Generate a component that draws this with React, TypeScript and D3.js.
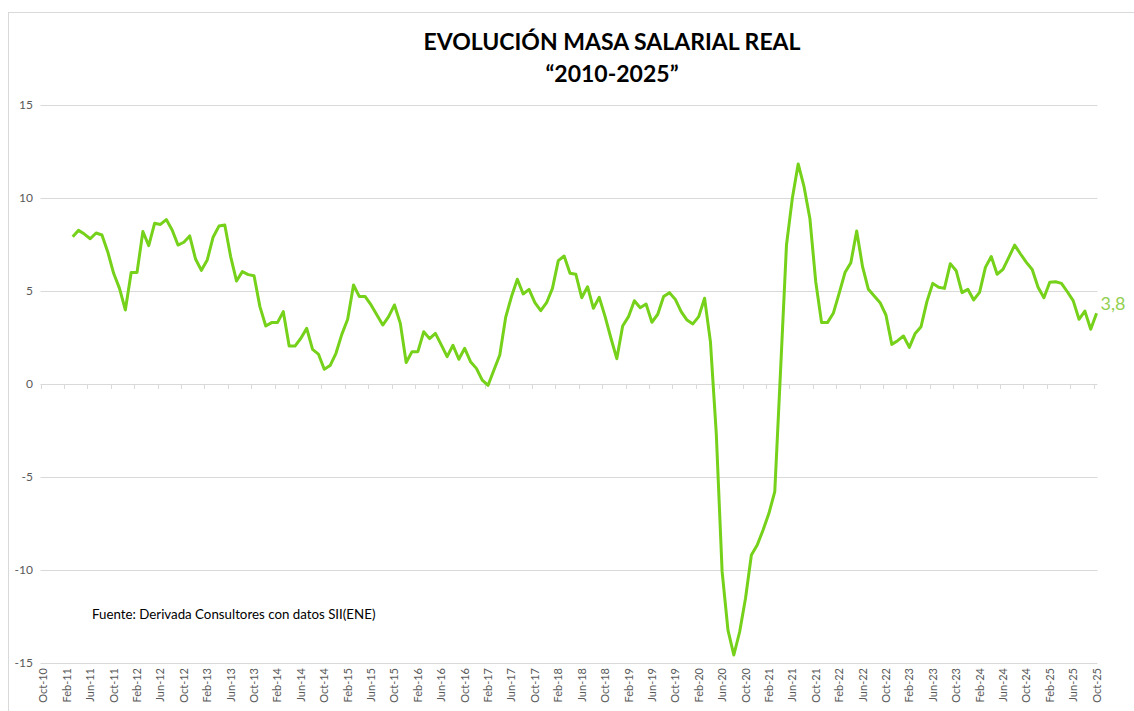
import React from "react";
import * as d3 from "d3";

// ---- data ----
const titleLine1 = "EVOLUCIÓN MASA SALARIAL REAL";
const titleLine2 = "“2010-2025”";
const sourceNote = "Fuente: Derivada Consultores con datos SII(ENE)";
const lastLabel = "3,8";

// monthly categories Oct-10 .. Oct-25
const categoryStart = new Date(2010, 9, 1);
const categoryEnd = new Date(2025, 10, 1);
const seriesStart = new Date(2011, 2, 1); // first observed month (Mar-11)

const tickLabels = [
  "Oct-10", "Feb-11", "Jun-11", "Oct-11", "Feb-12", "Jun-12", "Oct-12", "Feb-13", "Jun-13", "Oct-13",
  "Feb-14", "Jun-14", "Oct-14", "Feb-15", "Jun-15", "Oct-15", "Feb-16", "Jun-16", "Oct-16", "Feb-17",
  "Jun-17", "Oct-17", "Feb-18", "Jun-18", "Oct-18", "Feb-19", "Jun-19", "Oct-19", "Feb-20", "Jun-20",
  "Oct-20", "Feb-21", "Jun-21", "Oct-21", "Feb-22", "Jun-22", "Oct-22", "Feb-23", "Jun-23", "Oct-23",
  "Feb-24", "Jun-24", "Oct-24", "Feb-25", "Jun-25", "Oct-25",
];

const yTicks = [-15, -10, -5, 0, 5, 10, 15];

const values2011 = [7.92, 8.26, 8.06, 7.81, 8.12, 8.01, 7.1, 5.95, 5.14, 3.98];
const values2012 = [6.0, 6.0, 8.2, 7.44, 8.64, 8.58, 8.84, 8.28, 7.47, 7.62, 7.96, 6.72];
const values2013 = [6.11, 6.67, 7.89, 8.49, 8.55, 6.85, 5.54, 6.04, 5.88, 5.82, 4.16, 3.12];
const values2014 = [3.3, 3.3, 3.89, 2.04, 2.04, 2.46, 2.99, 1.86, 1.61, 0.79, 0.99, 1.65];
const values2015 = [2.67, 3.48, 5.32, 4.7, 4.7, 4.25, 3.71, 3.17, 3.62, 4.25, 3.26, 1.16];
const values2016 = [1.74, 1.74, 2.81, 2.44, 2.72, 2.1, 1.47, 2.08, 1.33, 1.92, 1.2, 0.84];
const values2017 = [0.21, -0.07, 0.75, 1.56, 3.58, 4.7, 5.63, 4.84, 5.09, 4.37, 3.94, 4.37];
const values2018 = [5.14, 6.63, 6.88, 5.95, 5.9, 4.64, 5.23, 4.07, 4.66, 3.62, 2.46, 1.36];
const values2019 = [3.12, 3.62, 4.48, 4.1, 4.3, 3.32, 3.75, 4.7, 4.91, 4.55, 3.89, 3.44];
const values2020 = [3.23, 3.62, 4.61, 2.28, -2.65, -10.09, -13.23, -14.57, -13.32, -11.52, -9.19, -8.66];
const values2021 = [-7.85, -6.95, -5.79, 0.8, 7.47, 9.98, 11.83, 10.61, 8.9, 5.5, 3.3, 3.3];
const values2022 = [3.8, 4.87, 5.99, 6.52, 8.23, 6.31, 5.09, 4.73, 4.37, 3.71, 2.13, 2.33];
const values2023 = [2.58, 1.97, 2.72, 3.08, 4.43, 5.41, 5.2, 5.14, 6.47, 6.09, 4.91, 5.09];
const values2024 = [4.52, 4.93, 6.27, 6.85, 5.9, 6.16, 6.81, 7.47, 6.99, 6.54, 6.16, 5.2];
const values2025 = [4.64, 5.47, 5.5, 5.41, 4.96, 4.48, 3.48, 3.92, 2.94, 3.8];

const seriesValues = [
  ...values2011, ...values2012, ...values2013, ...values2014, ...values2015,
  ...values2016, ...values2017, ...values2018, ...values2019, ...values2020,
  ...values2021, ...values2022, ...values2023, ...values2024, ...values2025,
];

// ---- layout ----
const W = 1134;
const H = 711;
const plotLeft = 40.5;
const plotRight = 1099.5;
const plotTop = 105;
const plotBottom = 663;
const FONT = "Lato, 'Open Sans', sans-serif";
const AXIS_COLOR = "#595959";
const GRID_COLOR = "#d9d9d9";
const LINE_COLOR = "#76d11a";
const LABEL_COLOR = "#92d050";

export default function App() {
  const months = d3.timeMonth.range(categoryStart, categoryEnd);
  const keys = months.map((m) => +m);
  const x = d3.scaleBand<number>().domain(keys).range([plotLeft, plotRight]).paddingInner(0).paddingOuter(0);
  const bw = x.bandwidth();
  const cx = (k: number) => (x(k) as number) + bw / 2;
  const y = d3.scaleLinear().domain([-15, 15]).range([plotBottom, plotTop]);

  const startIdx = keys.indexOf(+seriesStart);
  const points = seriesValues.map((v, i) => ({ k: keys[startIdx + i], v }));
  const line = d3
    .line<{ k: number; v: number }>()
    .x((d) => cx(d.k))
    .y((d) => y(d.v));

  const tickKeys = keys.filter((_, i) => i % 4 === 0);
  const last = points[points.length - 1];

  return (
    <svg
      width={W}
      height={H}
      style={{ position: "absolute", left: 0, top: 0, background: "#fff" }}
      fontFamily={FONT}
    >
      <rect x={0} y={0} width={W} height={H} fill="#fff" />
      <rect x={8.5} y={12.5} width={W + 20} height={H + 20} fill="none" stroke={GRID_COLOR} strokeWidth={1} />

      <text x={612} y={50} textAnchor="middle" fontSize={23} fontWeight="bold" fill="#000">
        {titleLine1}
      </text>
      <text x={612} y={82} textAnchor="middle" fontSize={23} fontWeight="bold" fill="#000">
        {titleLine2}
      </text>

      {yTicks.map((t) => (
        <g key={t}>
          <line x1={plotLeft} x2={plotRight - 2} y1={Math.round(y(t)) + 0.5} y2={Math.round(y(t)) + 0.5} stroke={GRID_COLOR} strokeWidth={1} />
          <text x={33} y={y(t)} dy="0.35em" textAnchor="end" fontSize={12} fill={AXIS_COLOR}>
            {t}
          </text>
        </g>
      ))}

      {tickKeys.map((k, i) => (
        <g key={k}>
          <line
            x1={Math.round(x(k) as number) + 0.5}
            x2={Math.round(x(k) as number) + 0.5}
            y1={y(0)}
            y2={y(0) + 5}
            stroke={GRID_COLOR}
          />
          <text
            transform={`translate(${cx(k) + 4},${668}) rotate(-90)`}
            textAnchor="end"
            fontSize={11}
            fill={AXIS_COLOR}
          >
            {tickLabels[i]}
          </text>
        </g>
      ))}

      <path d={line(points) || ""} fill="none" stroke={LINE_COLOR} strokeWidth={3} strokeLinejoin="round" />

      <text x={cx(last.k) + 4} y={y(last.v) - 10} fontSize={18} fill={LABEL_COLOR} dy="0.35em">
        {lastLabel}
      </text>

      <text x={92} y={619} fontSize={13.3} fill="#000">
        {sourceNote}
      </text>
    </svg>
  );
}
